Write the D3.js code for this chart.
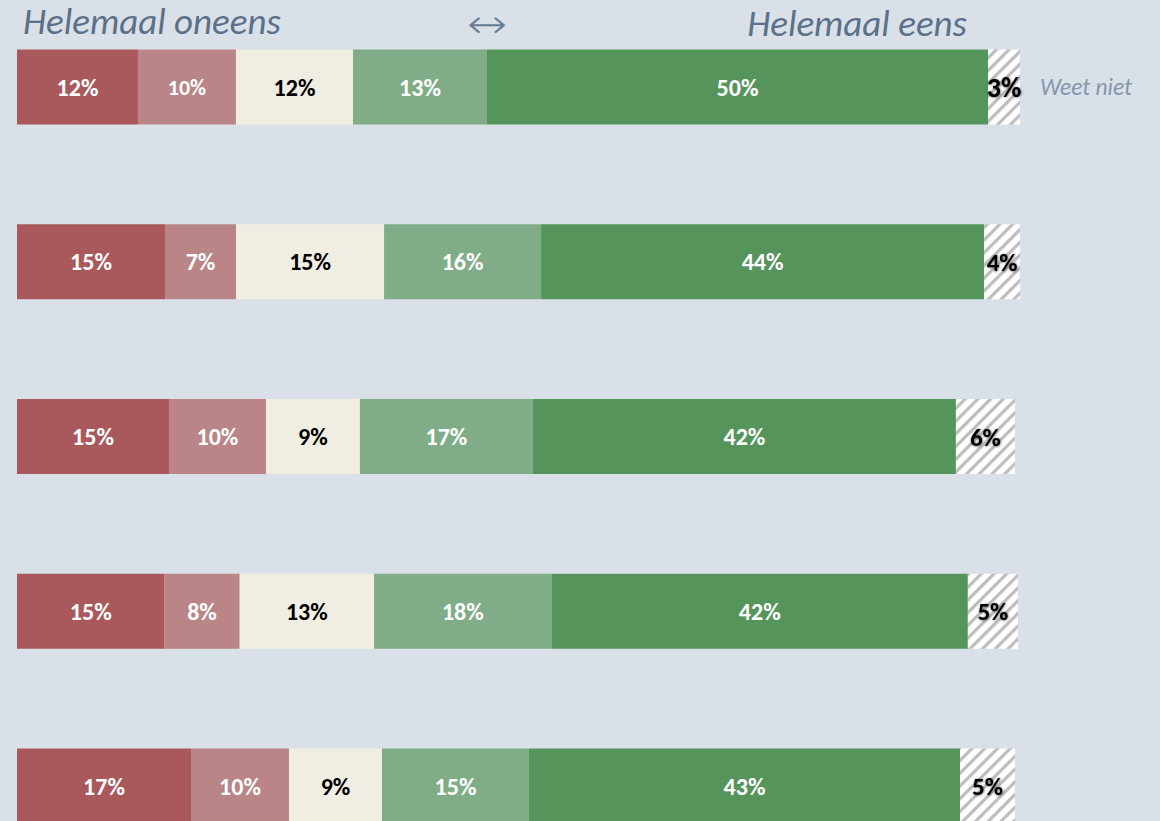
<!DOCTYPE html>
<html><head><meta charset="utf-8">
<script src="https://cdn.jsdelivr.net/npm/d3@7"></script>
<style>
html,body{margin:0;padding:0;background:#d9e0e8;}
svg{display:block;}
</style></head>
<body>
<svg id="chart" width="1160" height="821"></svg>
<script>
const rows = ["r1","r2","r3","r4","r5"];
const categories = ["Helemaal oneens","Oneens","Neutraal","Eens","Helemaal eens","Weet niet"];
const r1 = [12.06, 9.77, 11.67, 13.36, 49.95, 3.19];
const r2 = [14.76, 7.08, 14.76, 15.65, 44.17, 3.59];
const r3 = [15.15, 9.67, 9.37, 17.25, 42.17, 5.88];
const r4 = [14.7, 7.5, 13.4, 17.7, 41.5, 5.0];
const r5 = [17.35, 9.77, 9.27, 14.66, 42.97, 5.48];
const seriesValues = [r1, r2, r3, r4, r5];
const colors = ["#a9585b","#b98587","#f0eee2","#80ad88","#55955c","url(#hatch)"];
const labelColors = ["#fff","#fff","#000","#fff","#fff","#000"];
const headerLeft = "Helemaal oneens", headerMid = "\u2194", headerRight = "Helemaal eens", sideLabel = "Weet niet";

const svg = d3.select("#chart");
const defs = svg.append("defs");
const pat = defs.append("pattern").attr("id","hatch").attr("patternUnits","userSpaceOnUse")
  .attr("width",9).attr("height",9).attr("patternTransform","rotate(45)");
pat.append("rect").attr("width",9).attr("height",9).attr("fill","#fff");
pat.append("rect").attr("x",0).attr("width",3.2).attr("height",9).attr("fill","#bdbdbd");
const f = defs.append("filter").attr("id","glow").attr("x","-20%").attr("y","-20%").attr("width","140%").attr("height","140%");
f.append("feDropShadow").attr("dx",0.5).attr("dy",0.5).attr("stdDeviation",1.2).attr("flood-color","#000").attr("flood-opacity",0.6);

const x = d3.scaleLinear().domain([0,100]).range([17,1020]);
const y = d3.scalePoint().domain(rows).range([87,786]);
const barH = 75;
const font = "Calibri, Carlito, Lato, 'Open Sans', sans-serif";

rows.forEach((r,i)=>{
  const vals = seriesValues[i];
  const stacked = [];
  let acc = 0;
  vals.forEach((v,j)=>{ stacked.push({j, v, x0:acc, x1:acc+v}); acc+=v; });
  const g = svg.append("g");
  g.selectAll("rect").data(stacked).join("rect")
    .attr("x", d=>x(d.x0)).attr("width", d=>x(d.x1)-x(d.x0))
    .attr("y", y(r)-barH/2).attr("height", barH)
    .attr("fill", d=>colors[d.j]);
  g.selectAll("text").data(stacked).join("text")
    .attr("x", d=>(x(d.x0)+x(d.x1))/2).attr("y", y(r))
    .attr("dy","0.36em").attr("text-anchor","middle")
    .attr("font-family", font).attr("font-weight","bold")
    .attr("font-size", d=> d.j===5 ? (i===0?28:25) : (i===0 && d.j===1 ? 22 : 24))
    .attr("fill", d=>labelColors[d.j])
    .attr("filter", d=> d.j===5 ? "url(#glow)" : null)
    .text(d=>Math.round(d.v)+"%");
});

svg.append("text").attr("x",23).attr("y",34).attr("font-family",font).attr("font-style","italic")
  .attr("font-size",37).attr("fill","#5b7089").text(headerLeft);
svg.append("text").attr("transform","translate(487,37.5) scale(1.2,1)").attr("text-anchor","middle")
  .attr("font-family","'DejaVu Sans', sans-serif")
  .attr("font-size",40).attr("font-weight",200).attr("fill","#677c95").text(headerMid);
svg.append("text").attr("x",967).attr("y",36).attr("text-anchor","end").attr("font-family",font).attr("font-style","italic")
  .attr("font-size",37).attr("fill","#5b7089").text(headerRight);
svg.append("text").attr("x",1040).attr("y",y("r1")).attr("dy","0.35em").attr("font-family",font).attr("font-style","italic")
  .attr("font-size",23.5).attr("fill","#8596ae").text(sideLabel);
</script>
</body></html>
